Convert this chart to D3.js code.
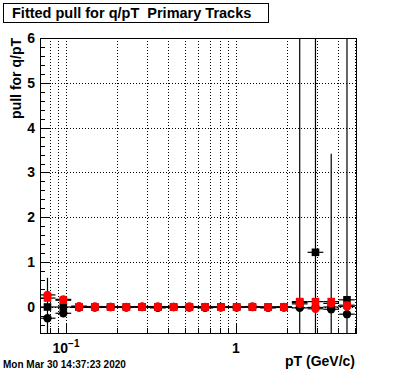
<!DOCTYPE html>
<html lang="en">
<head>
<meta charset="UTF-8">
<title>Fitted pull for q/pT</title>
<script src="https://d3js.org/d3.v7.min.js"></script>
<style>
  body { margin: 0; background: #fff; }
  text { font-family: "Liberation Sans", Arial, sans-serif; font-weight: bold; white-space: pre; }
</style>
</head>
<body>
<div id="chart"></div>
<script>
// pT bins (GeV/c): centres and edges
const ptCenters = [0.0778, 0.0964, 0.1193, 0.1477, 0.1829, 0.2264, 0.2803, 0.3470, 0.4295, 0.5318,
                   0.6583, 0.8150, 1.009, 1.249, 1.546, 1.914, 2.370, 2.934, 3.631, 4.496];
const ptEdges = [0.0700, 0.0867, 0.1073, 0.1328, 0.1644, 0.2035, 0.2519, 0.3119, 0.3861, 0.4780, 0.5917,
                 0.7325, 0.9068, 1.123, 1.390, 1.720, 2.130, 2.637, 3.264, 4.041, 5.000];

// pulls, four graphs
const blackCircle    = [-0.25, -0.14, -0.01, -0.01, 0.0, -0.01, 0.0, -0.02, 0.0, -0.01,
                        -0.02, 0.0, -0.01, 0.0, -0.02, -0.01, -0.02, -0.01, -0.05, -0.16];
const blackCircleErr = [0.9, 0.05, 0.02, 0.02, 0.02, 0.02, 0.02, 0.02, 0.02, 0.02,
                        0.02, 0.02, 0.02, 0.02, 0.02, 0.03, 0.04, 0.05, 0.05, 0.06];
const blackSquare    = [0.0, 0.0, 0.0, 0.0, 0.0, 0.0, 0.0, 0.0, 0.0, 0.0,
                        0.0, 0.0, 0.0, 0.0, 0.0, 0.0, 0.10, 1.22, 0.0, 0.16];
const blackSquareErr = [0.05, 0.05, 0.02, 0.02, 0.02, 0.02, 0.02, 0.02, 0.02, 0.02,
                        0.02, 0.02, 0.02, 0.02, 0.02, 0.03, 0.05, 10, 0.05, 10];
const redSquare      = [0.20, 0.15, 0.0, 0.0, 0.0, 0.0, 0.0, 0.0, 0.0, 0.0,
                        0.0, 0.0, 0.0, 0.0, 0.0, 0.0, 0.12, 0.12, 0.12, 0.04];
const redSquareErr   = [0.05, 0.05, 0.02, 0.02, 0.02, 0.02, 0.02, 0.02, 0.02, 0.02,
                        0.02, 0.02, 0.02, 0.02, 0.02, 0.03, 10, 0.05, 3.3, 0.05];
const redCircle      = [0.27, 0.17, 0.02, 0.01, 0.0, 0.0, 0.01, 0.01, 0.0, 0.01,
                        0.0, -0.01, 0.0, 0.01, -0.01, 0.0, 0.07, -0.04, 0.08, 0.01];
const redCircleErr   = [0.03, 0.03, 0.02, 0.02, 0.02, 0.02, 0.02, 0.02, 0.02, 0.02,
                        0.02, 0.02, 0.02, 0.02, 0.02, 0.03, 0.04, 0.05, 0.05, 0.06];

const yTicks = [0, 1, 2, 3, 4, 5, 6];
const xLabels = [{v: 0.1, t: "10", e: "\u22121"}, {v: 1, t: "1", e: ""}];

const W = 396, H = 372;
const frame = {left: 40, right: 356, top: 38, bottom: 333};

const svg = d3.select("#chart").append("svg")
  .attr("width", W).attr("height", H);

const x = d3.scaleLog().domain([0.0703, 5.08]).range([frame.left, frame.right]);
const y = d3.scaleLinear().domain([-0.58, 6]).range([frame.bottom, frame.top]);

svg.append("defs").append("clipPath").attr("id", "clip")
  .append("rect")
  .attr("x", frame.left).attr("y", frame.top)
  .attr("width", frame.right - frame.left).attr("height", frame.bottom - frame.top);

// grid
const xGrid = [0.08, 0.09, 0.1, 0.2, 0.3, 0.4, 0.5, 0.6, 0.7, 0.8, 0.9, 1, 2, 3, 4, 5];
svg.append("g").selectAll("line").data(xGrid).join("line")
  .attr("x1", d => Math.round(x(d)) + 0.5).attr("x2", d => Math.round(x(d)) + 0.5)
  .attr("y1", frame.top).attr("y2", frame.bottom)
  .attr("stroke", "#000").attr("stroke-width", 1).attr("stroke-dasharray", "1,2");
svg.append("g").selectAll("line").data(yTicks).join("line")
  .attr("x1", frame.left).attr("x2", frame.right)
  .attr("y1", d => Math.round(y(d)) + 0.5).attr("y2", d => Math.round(y(d)) + 0.5)
  .attr("stroke", "#000").attr("stroke-width", 1).attr("stroke-dasharray", "1,2");

// y axis ticks
const yMinor = d3.range(-0.4, 6.01, 0.2);
svg.append("g").selectAll("line").data(yMinor).join("line")
  .attr("x1", frame.left).attr("x2", d => frame.left + (Math.abs(d - Math.round(d)) < 1e-6 ? 9 : 5))
  .attr("y1", d => Math.round(y(d)) + 0.5).attr("y2", d => Math.round(y(d)) + 0.5)
  .attr("stroke", "#000");

svg.append("g").selectAll("text").data(yTicks).join("text")
  .attr("x", frame.left - 5).attr("y", d => y(d) + 5)
  .attr("text-anchor", "end").attr("font-size", 14)
  .text(d => d);

// x axis ticks
svg.append("g").selectAll("line").data(xGrid.concat([0.07])).join("line")
  .attr("x1", d => Math.round(x(d)) + 0.5).attr("x2", d => Math.round(x(d)) + 0.5)
  .attr("y1", frame.bottom)
  .attr("y2", d => frame.bottom - ((d === 0.1 || d === 1) ? 9 : 5))
  .attr("stroke", "#000");

const xl = svg.append("g").selectAll("text").data(xLabels).join("text")
  .attr("x", d => x(d.v)).attr("y", 353)
  .attr("text-anchor", "middle").attr("font-size", 14);
xl.append("tspan").text(d => d.t);
xl.append("tspan").attr("dy", -6).attr("font-size", 10).text(d => d.e);

// frame
svg.append("rect")
  .attr("x", frame.left + 0.5).attr("y", frame.top + 0.5)
  .attr("width", frame.right - frame.left).attr("height", frame.bottom - frame.top)
  .attr("fill", "none").attr("stroke", "#000");

// graphs
const series = [
  {v: blackCircle, e: blackCircleErr, color: "#000", shape: "circle"},
  {v: blackSquare, e: blackSquareErr, color: "#000", shape: "square"},
  {v: redSquare,   e: redSquareErr,   color: "#f00", shape: "square"},
  {v: redCircle,   e: redCircleErr,   color: "#f00", shape: "circle"}
];

const plot = svg.append("g").attr("clip-path", "url(#clip)");
series.forEach(s => {
  const g = plot.append("g");
  const pts = ptCenters.map((p, i) => ({p: p, lo: ptEdges[i], hi: ptEdges[i + 1], v: s.v[i], e: s.e[i]}));
  g.selectAll("line.h").data(pts).join("line").attr("class", "h")
    .attr("x1", d => x(d.lo)).attr("x2", d => x(d.hi))
    .attr("y1", d => y(d.v)).attr("y2", d => y(d.v))
    .attr("stroke", "#000").attr("stroke-width", 1.2);
  g.selectAll("line.v").data(pts).join("line").attr("class", "v")
    .attr("x1", d => x(d.p)).attr("x2", d => x(d.p))
    .attr("y1", d => y(d.v - d.e)).attr("y2", d => y(d.v + d.e))
    .attr("stroke", "#000").attr("stroke-width", 1.2);
  if (s.shape === "circle") {
    g.selectAll("circle").data(pts).join("circle")
      .attr("cx", d => x(d.p)).attr("cy", d => y(d.v)).attr("r", 4.2)
      .attr("fill", s.color);
  } else {
    g.selectAll("rect").data(pts).join("rect")
      .attr("x", d => x(d.p) - 3.8).attr("y", d => y(d.v) - 3.8)
      .attr("width", 7.6).attr("height", 7.6)
      .attr("fill", s.color);
  }
});

// axis titles
svg.append("text")
  .attr("transform", "translate(21," + frame.top + ") rotate(-90)")
  .attr("text-anchor", "end").attr("font-size", 14)
  .text("pull for q/pT");
svg.append("text")
  .attr("x", frame.right - 1).attr("y", 366)
  .attr("text-anchor", "end").attr("font-size", 14)
  .text("pT (GeV/c)");

// title box
svg.append("rect")
  .attr("x", 3.5).attr("y", 3.5).attr("width", 265).attr("height", 19)
  .attr("fill", "#fff").attr("stroke", "#000");
svg.append("text")
  .attr("x", 12).attr("y", 18).attr("font-size", 14.5)
  .text("Fitted pull for q/pT  Primary Tracks");

// date stamp
svg.append("text")
  .attr("x", 3).attr("y", 368).attr("font-size", 10)
  .text("Mon Mar 30 14:37:23 2020");
</script>
</body>
</html>
